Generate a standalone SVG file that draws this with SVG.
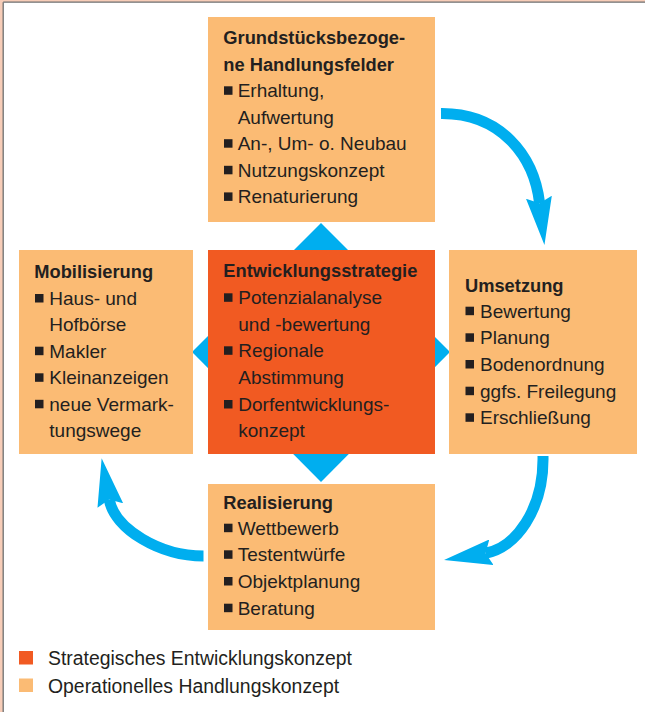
<svg xmlns="http://www.w3.org/2000/svg" width="645" height="712" viewBox="0 0 645 712">
  <style>
    text { font-family: "Liberation Sans", Arial, sans-serif; fill: #231F20; }
    .t { font-size: 18.3px; font-weight: bold; }
    .i { font-size: 19px; }
    .lg { font-size: 19.4px; }
    .op { fill: #FBBB74; }
    .st { fill: #F15A22; }
    .b { fill: #231F20; }
    .arrow { fill: none; stroke: #00AEEF; stroke-width: 11; marker-end: url(#head); }
  </style>
  <defs>
    <marker id="head" viewBox="0 0 48 26" refX="6" refY="13" markerWidth="48" markerHeight="26" markerUnits="userSpaceOnUse" orient="auto">
      <path d="M0,0 L48,13 L0,26 L6,13 Z" fill="#00AEEF"/>
    </marker>
  </defs>

  <!-- page frame -->
  <rect x="0" y="0" width="645" height="712" fill="#FFFFFF"/>
  <rect x="0" y="0" width="645" height="2" fill="#F7CDB8"/>
  <rect x="0" y="0" width="3" height="712" fill="#F7CDB8"/>
  <line x1="3.2" y1="2.2" x2="645" y2="2.2" stroke="#6E6E6E" stroke-width="1.3"/>
  <line x1="3.2" y1="2.2" x2="3.2" y2="712" stroke="#6E6E6E" stroke-width="1.3"/>

  <!-- diamond behind the centre -->
  <polygon id="diamond" points="321,223 450,352 321,482 192,352" fill="#00AEEF"/>

  <!-- connectors -->
  <g id="connectors">
    <path class="arrow" d="M441,113.5 C500,113 534,155 539.6,203.2"/>
    <path class="arrow" d="M543,456 C544,510 515.1,548.4 485.5,553.2"/>
    <path class="arrow" d="M203.5,556 C160,556 114.6,529.1 109.2,499.6"/>
  </g>

  <g id="grundstueck">
    <rect class="op" x="208" y="17" width="227" height="205"/>
    <text class="t" x="223.3" y="44.3">Grundstücksbezoge-</text>
    <text class="t" x="223.3" y="70.7">ne Handlungsfelder</text>
    <rect class="b" x="224" y="86.3" width="8.5" height="8.5"/>
    <text class="i" x="237.7" y="97.3">Erhaltung,</text>
    <text class="i" x="237.7" y="124">Aufwertung</text>
    <rect class="b" x="224" y="139.2" width="8.5" height="8.5"/>
    <text class="i" x="237.7" y="150.2">An-, Um- o. Neubau</text>
    <rect class="b" x="224" y="165.8" width="8.5" height="8.5"/>
    <text class="i" x="237.7" y="176.8">Nutzungskonzept</text>
    <rect class="b" x="224" y="192.4" width="8.5" height="8.5"/>
    <text class="i" x="237.7" y="203.4">Renaturierung</text>
  </g>

  <g id="mobilisierung">
    <rect class="op" x="19" y="250" width="174" height="204"/>
    <text class="t" x="34.3" y="278.3">Mobilisierung</text>
    <rect class="b" x="35" y="294" width="8.5" height="8.5"/>
    <text class="i" x="49.3" y="305">Haus- und</text>
    <text class="i" x="49.3" y="331.4">Hofbörse</text>
    <rect class="b" x="35" y="346.7" width="8.5" height="8.5"/>
    <text class="i" x="49.3" y="357.7">Makler</text>
    <rect class="b" x="35" y="373.3" width="8.5" height="8.5"/>
    <text class="i" x="49.3" y="384.3">Kleinanzeigen</text>
    <rect class="b" x="35" y="399.8" width="8.5" height="8.5"/>
    <text class="i" x="49.3" y="410.8">neue Vermark-</text>
    <text class="i" x="49.3" y="437.3">tungswege</text>
  </g>

  <g id="entwicklungsstrategie">
    <rect class="st" x="208" y="250" width="227" height="204"/>
    <text class="t" x="223.3" y="276.7">Entwicklungsstrategie</text>
    <rect class="b" x="224" y="293.3" width="8.5" height="8.5"/>
    <text class="i" x="238.3" y="304.3">Potenzialanalyse</text>
    <text class="i" x="238.3" y="330.8">und -bewertung</text>
    <rect class="b" x="224" y="346.3" width="8.5" height="8.5"/>
    <text class="i" x="238.3" y="357.3">Regionale</text>
    <text class="i" x="238.3" y="384.2">Abstimmung</text>
    <rect class="b" x="224" y="400" width="8.5" height="8.5"/>
    <text class="i" x="238.3" y="411">Dorfentwicklungs-</text>
    <text class="i" x="238.3" y="436.8">konzept</text>
  </g>

  <g id="umsetzung">
    <rect class="op" x="449" y="250" width="188" height="204"/>
    <text class="t" x="465" y="291.7">Umsetzung</text>
    <rect class="b" x="465.5" y="306.7" width="8.5" height="8.5"/>
    <text class="i" x="480" y="317.7">Bewertung</text>
    <rect class="b" x="465.5" y="333.3" width="8.5" height="8.5"/>
    <text class="i" x="480" y="344.3">Planung</text>
    <rect class="b" x="465.5" y="360" width="8.5" height="8.5"/>
    <text class="i" x="480" y="371">Bodenordnung</text>
    <rect class="b" x="465.5" y="386.7" width="8.5" height="8.5"/>
    <text class="i" x="480" y="397.7">ggfs. Freilegung</text>
    <rect class="b" x="465.5" y="413.3" width="8.5" height="8.5"/>
    <text class="i" x="480" y="424.3">Erschließung</text>
  </g>

  <g id="realisierung">
    <rect class="op" x="208" y="484" width="227" height="146"/>
    <text class="t" x="223.3" y="508.7">Realisierung</text>
    <rect class="b" x="224" y="523.7" width="8.5" height="8.5"/>
    <text class="i" x="237.7" y="534.7">Wettbewerb</text>
    <rect class="b" x="224" y="550.3" width="8.5" height="8.5"/>
    <text class="i" x="237.7" y="561.3">Testentwürfe</text>
    <rect class="b" x="224" y="577" width="8.5" height="8.5"/>
    <text class="i" x="237.7" y="588">Objektplanung</text>
    <rect class="b" x="224" y="603.7" width="8.5" height="8.5"/>
    <text class="i" x="237.7" y="614.7">Beratung</text>
  </g>

  <g id="legend">
    <rect class="st" x="19" y="651" width="14" height="13.5"/>
    <text class="lg" x="48" y="665">Strategisches Entwicklungskonzept</text>
    <rect class="op" x="19" y="678.5" width="14" height="13.5"/>
    <text class="lg" x="48" y="693">Operationelles Handlungskonzept</text>
  </g>
</svg>
